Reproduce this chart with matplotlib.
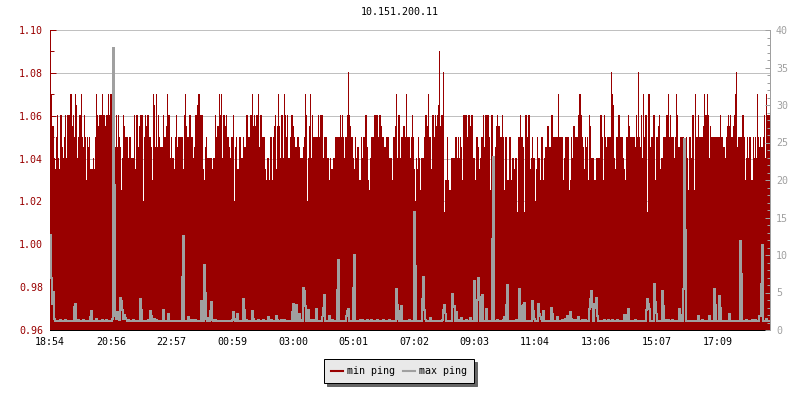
import numpy as np
import matplotlib
matplotlib.use('Agg')
import matplotlib.pyplot as plt
from matplotlib.lines import Line2D
from matplotlib.ticker import MultipleLocator, FormatStrFormatter

title = '10.151.200.11'
series_names = ['min ping', 'max ping']
step_min = 2  # one sample every 2 minutes, 24h window
tick_labels = ['18:54', '20:56', '22:57', '00:59', '03:00', '05:01',
               '07:02', '09:03', '11:04', '13:06', '15:07', '17:09']

# min ping in microseconds (left axis)
min_ping_us = [
    1070, 1070, 1055, 1055, 1040, 1035, 1050, 1060, 1040, 1035,
    1060, 1060, 1045, 1040, 1050, 1060, 1040, 1060, 1060, 1060,
    1070, 1070, 1055, 1060, 1050, 1070, 1065, 1040, 1050, 1060,
    1060, 1070, 1050, 1045, 1060, 1050, 1030, 1050, 1045, 1050,
    1035, 1035, 1035, 1040, 1035, 1050, 1070, 1060, 1055, 1060,
    1060, 1060, 1070, 1060, 1060, 1055, 1060, 1060, 1070, 1060,
    1070, 1070, 1055, 1055, 1040, 1045, 1060, 1045, 1060, 1050,
    1045, 1025, 1040, 1060, 1055, 1050, 1050, 1050, 1040, 1050,
    1050, 1040, 1040, 1040, 1060, 1035, 1060, 1060, 1045, 1055,
    1060, 1060, 1060, 1020, 1050, 1060, 1055, 1060, 1060, 1050,
    1050, 1045, 1030, 1070, 1065, 1045, 1070, 1045, 1060, 1050,
    1045, 1045, 1045, 1060, 1050, 1050, 1055, 1070, 1060, 1060,
    1040, 1050, 1040, 1040, 1035, 1050, 1060, 1045, 1050, 1050,
    1050, 1050, 1050, 1035, 1060, 1070, 1055, 1050, 1050, 1060,
    1060, 1050, 1050, 1040, 1045, 1060, 1060, 1065, 1070, 1070,
    1060, 1060, 1060, 1035, 1030, 1045, 1050, 1040, 1040, 1040,
    1040, 1040, 1035, 1040, 1040, 1060, 1050, 1055, 1055, 1070,
    1060, 1070, 1040, 1060, 1060, 1055, 1060, 1050, 1050, 1045,
    1040, 1050, 1050, 1060, 1020, 1045, 1050, 1035, 1035, 1050,
    1050, 1040, 1040, 1050, 1045, 1045, 1060, 1060, 1050, 1050,
    1060, 1060, 1070, 1055, 1060, 1055, 1060, 1060, 1070, 1045,
    1060, 1060, 1050, 1050, 1050, 1035, 1030, 1040, 1040, 1030,
    1050, 1050, 1030, 1050, 1055, 1060, 1035, 1055, 1070, 1055,
    1040, 1060, 1060, 1040, 1070, 1060, 1050, 1060, 1040, 1040,
    1050, 1060, 1060, 1055, 1050, 1045, 1045, 1050, 1050, 1045,
    1040, 1040, 1040, 1045, 1050, 1070, 1060, 1020, 1040, 1055,
    1070, 1040, 1060, 1050, 1050, 1050, 1050, 1050, 1060, 1050,
    1060, 1060, 1060, 1040, 1050, 1050, 1050, 1040, 1040, 1030,
    1040, 1035, 1035, 1040, 1040, 1050, 1050, 1050, 1050, 1050,
    1060, 1050, 1060, 1050, 1040, 1050, 1050, 1060, 1080, 1060,
    1055, 1050, 1050, 1040, 1035, 1050, 1040, 1045, 1045, 1030,
    1030, 1050, 1040, 1050, 1050, 1060, 1060, 1045, 1030, 1025,
    1040, 1050, 1050, 1050, 1060, 1060, 1060, 1060, 1050, 1060,
    1060, 1055, 1050, 1050, 1045, 1045, 1050, 1050, 1050, 1040,
    1040, 1040, 1030, 1050, 1050, 1055, 1070, 1040, 1060, 1060,
    1040, 1050, 1050, 1055, 1055, 1050, 1070, 1050, 1050, 1050,
    1040, 1050, 1060, 1050, 1035, 1020, 1040, 1035, 1050, 1040,
    1025, 1040, 1040, 1040, 1050, 1060, 1060, 1055, 1070, 1050,
    1050, 1035, 1060, 1060, 1050, 1060, 1055, 1060, 1065, 1090,
    1055, 1060, 1060, 1080, 1015, 1030, 1030, 1050, 1030, 1025,
    1025, 1040, 1040, 1040, 1040, 1050, 1050, 1040, 1050, 1040,
    1050, 1045, 1030, 1060, 1060, 1060, 1060, 1050, 1060, 1060,
    1055, 1060, 1060, 1040, 1040, 1030, 1050, 1050, 1045, 1035,
    1040, 1050, 1050, 1060, 1045, 1060, 1060, 1060, 1060, 1050,
    1025, 1060, 1060, 1035, 1035, 1045, 1055, 1060, 1055, 1055,
    1050, 1050, 1060, 1050, 1025, 1050, 1050, 1030, 1030, 1050,
    1050, 1030, 1040, 1040, 1035, 1040, 1040, 1015, 1050, 1050,
    1060, 1050, 1050, 1045, 1015, 1060, 1060, 1050, 1060, 1060,
    1035, 1040, 1050, 1040, 1040, 1020, 1035, 1050, 1040, 1040,
    1030, 1050, 1050, 1030, 1040, 1045, 1045, 1055, 1055, 1045,
    1045, 1060, 1060, 1050, 1050, 1050, 1050, 1050, 1070, 1050,
    1050, 1050, 1050, 1030, 1040, 1050, 1050, 1050, 1050, 1025,
    1030, 1050, 1040, 1055, 1055, 1050, 1050, 1050, 1060, 1070,
    1070, 1060, 1050, 1045, 1035, 1050, 1045, 1050, 1030, 1060,
    1055, 1040, 1040, 1040, 1030, 1030, 1040, 1040, 1040, 1040,
    1060, 1060, 1050, 1030, 1060, 1050, 1045, 1050, 1050, 1050,
    1050, 1080, 1070, 1065, 1040, 1035, 1050, 1050, 1060, 1060,
    1050, 1050, 1050, 1040, 1035, 1030, 1050, 1050, 1060, 1055,
    1050, 1050, 1050, 1050, 1050, 1045, 1060, 1050, 1080, 1050,
    1045, 1060, 1040, 1070, 1050, 1060, 1060, 1015, 1070, 1070,
    1045, 1050, 1050, 1060, 1060, 1030, 1050, 1050, 1055, 1060,
    1035, 1040, 1040, 1050, 1050, 1050, 1060, 1060, 1070, 1050,
    1060, 1050, 1050, 1050, 1040, 1050, 1070, 1060, 1045, 1045,
    1050, 1050, 1050, 1050, 1040, 1040, 1050, 1040, 1025, 1050,
    1050, 1040, 1060, 1060, 1025, 1070, 1050, 1050, 1060, 1050,
    1050, 1050, 1050, 1055, 1070, 1060, 1060, 1070, 1060, 1040,
    1055, 1050, 1050, 1050, 1050, 1050, 1050, 1050, 1050, 1050,
    1060, 1050, 1050, 1045, 1045, 1040, 1050, 1055, 1060, 1055,
    1060, 1050, 1050, 1055, 1060, 1070, 1080, 1045, 1050, 1050,
    1050, 1050, 1060, 1060, 1050, 1030, 1040, 1050, 1040, 1050,
    1050, 1030, 1030, 1050, 1040, 1050, 1040, 1070, 1050, 1045,
    1050, 1045, 1045, 1050, 1060, 1040, 1070, 1060, 1060, 1060,
]

# max ping in ms (right axis)
max_ping = [
    12.7, 6.9, 3.5, 5.1, 1.5, 1.2, 1.2, 1.2, 1.2, 1.2, 1.4, 1.2, 1.2, 1.2, 1.2, 1.3, 1.2, 1.2, 1.2, 1.2,
    1.2, 1.2, 1.2, 1.2, 3.1, 3.5, 1.2, 1.2, 1.4, 1.2, 1.2, 1.2, 1.2, 1.3, 1.2, 1.2, 1.2, 1.2, 1.2, 1.2,
    1.7, 2.6, 1.2, 1.2, 1.2, 1.2, 1.5, 1.2, 1.2, 1.2, 1.2, 1.2, 1.3, 1.2, 1.2, 1.2, 1.4, 1.2, 1.2, 1.2,
    1.2, 1.2, 1.5, 37.6, 19.3, 1.9, 1.5, 2.4, 1.4, 1.3, 4.3, 3.9, 2.7, 1.5, 2.0, 1.6, 1.4, 1.2, 1.3, 1.2,
    1.2, 1.2, 1.2, 1.3, 1.2, 1.2, 1.2, 1.2, 1.2, 1.2, 4.1, 2.7, 1.2, 1.2, 1.2, 1.2, 1.2, 1.2, 1.3, 1.2,
    2.6, 1.9, 1.2, 1.2, 1.5, 1.2, 1.4, 1.2, 1.2, 1.2, 1.2, 1.2, 1.2, 2.7, 1.2, 1.2, 1.2, 1.2, 2.2, 1.2,
    1.2, 1.2, 1.2, 1.2, 1.2, 1.2, 1.2, 1.2, 1.2, 1.2, 1.2, 1.2, 7.1, 12.5, 1.2, 1.2, 1.2, 1.2, 1.7, 1.4,
    1.2, 1.4, 1.3, 1.2, 1.2, 1.3, 1.2, 1.2, 1.2, 1.2, 1.2, 3.9, 1.2, 1.2, 8.7, 5.0, 1.4, 1.2, 1.6, 1.2,
    2.5, 3.8, 1.3, 1.2, 1.2, 1.4, 1.2, 1.2, 1.2, 1.2, 1.2, 1.2, 1.2, 1.2, 1.2, 1.2, 1.2, 1.2, 1.2, 1.2,
    1.2, 1.2, 1.3, 2.4, 1.5, 1.2, 1.2, 2.1, 1.2, 1.2, 1.2, 1.2, 1.2, 4.1, 2.7, 1.2, 1.4, 1.2, 1.2, 1.2,
    1.2, 1.2, 2.6, 1.5, 1.2, 1.2, 1.2, 1.2, 1.3, 1.2, 1.2, 1.2, 1.2, 1.3, 1.2, 1.2, 1.2, 1.2, 1.7, 1.4,
    1.2, 1.3, 1.2, 1.2, 1.2, 1.2, 1.9, 1.4, 1.2, 1.2, 1.2, 1.4, 1.2, 1.2, 1.3, 1.2, 1.2, 1.2, 1.2, 1.2,
    1.2, 1.2, 2.4, 3.5, 1.2, 1.2, 3.3, 1.2, 1.2, 2.2, 1.2, 1.4, 1.2, 5.6, 5.2, 3.2, 1.2, 1.2, 2.7, 1.2,
    1.2, 1.4, 1.2, 1.2, 1.3, 1.2, 2.8, 1.2, 1.2, 1.2, 1.2, 1.2, 1.8, 3.0, 4.7, 1.2, 1.2, 1.2, 1.2, 1.9,
    1.2, 1.2, 1.3, 1.2, 1.2, 1.2, 1.2, 5.3, 9.3, 1.2, 1.2, 1.2, 1.2, 1.2, 1.2, 1.2, 1.9, 2.6, 2.8, 1.2,
    1.2, 1.2, 1.2, 5.6, 10.0, 1.2, 1.2, 1.2, 1.2, 1.2, 1.4, 1.2, 1.3, 1.2, 1.2, 1.2, 1.2, 1.3, 1.2, 1.2,
    1.2, 1.3, 1.2, 1.2, 1.2, 1.2, 1.2, 1.3, 1.2, 1.2, 1.2, 1.2, 1.2, 1.3, 1.2, 1.2, 1.2, 1.2, 1.2, 1.3,
    1.2, 1.2, 1.2, 1.2, 1.2, 1.2, 5.5, 3.3, 1.4, 1.2, 2.5, 3.2, 1.2, 1.2, 1.2, 1.2, 1.2, 1.2, 1.2, 1.3,
    1.2, 1.2, 1.2, 1.2, 15.8, 8.5, 1.2, 1.2, 1.2, 1.2, 1.2, 1.2, 4.1, 7.1, 2.7, 1.4, 1.2, 1.2, 1.2, 1.2,
    1.6, 1.2, 1.2, 1.2, 1.2, 1.2, 1.2, 1.2, 1.2, 1.2, 1.2, 1.2, 1.3, 2.7, 3.3, 2.2, 1.2, 1.2, 1.2, 1.2,
    1.2, 1.2, 4.8, 3.1, 3.2, 1.2, 2.4, 1.2, 1.3, 1.2, 1.2, 1.6, 1.2, 1.2, 1.2, 1.2, 1.3, 1.2, 1.2, 1.2,
    1.6, 1.2, 1.2, 1.2, 6.6, 3.9, 1.2, 4.0, 7.0, 4.2, 1.2, 4.4, 4.7, 1.2, 1.2, 1.2, 2.8, 1.2, 1.2, 1.2,
    1.2, 1.2, 12.1, 23.1, 1.2, 1.2, 1.2, 1.3, 1.2, 1.2, 1.2, 1.2, 1.2, 1.3, 1.8, 1.2, 3.4, 6.0, 1.2, 1.2,
    1.2, 1.2, 1.2, 1.2, 1.2, 1.2, 1.4, 1.2, 1.2, 5.5, 3.2, 1.2, 1.2, 3.4, 3.6, 1.2, 1.2, 1.2, 1.2, 1.2,
    1.2, 1.2, 3.9, 2.6, 1.5, 1.2, 1.2, 1.2, 3.5, 2.2, 1.8, 1.5, 1.2, 2.6, 1.2, 1.2, 1.2, 1.2, 1.2, 1.2,
    1.2, 3.0, 2.1, 1.2, 1.2, 1.2, 1.2, 1.7, 1.2, 1.2, 1.2, 1.2, 1.3, 1.2, 1.4, 1.5, 1.2, 1.9, 1.4, 1.2,
    2.4, 1.5, 1.2, 1.3, 1.4, 1.2, 1.2, 1.4, 1.7, 1.2, 1.2, 1.2, 1.3, 1.2, 1.2, 1.3, 1.2, 1.2, 1.2, 2.8,
    4.2, 5.2, 3.1, 1.2, 3.5, 2.9, 4.3, 1.9, 1.2, 1.2, 1.2, 1.2, 1.2, 1.2, 1.3, 1.2, 1.2, 1.2, 1.3, 1.2,
    1.2, 1.2, 1.3, 1.2, 1.2, 1.2, 1.2, 1.3, 1.2, 1.2, 1.2, 1.2, 1.2, 1.2, 2.0, 1.2, 1.2, 2.0, 2.8, 1.2,
    1.2, 1.2, 1.2, 1.2, 1.2, 1.3, 1.2, 1.2, 1.2, 1.2, 1.2, 1.2, 1.2, 1.2, 1.2, 1.2, 2.7, 4.1, 3.5, 2.8,
    1.2, 1.2, 1.2, 1.2, 6.1, 3.8, 2.2, 1.2, 1.2, 1.2, 1.2, 1.2, 5.2, 3.2, 1.2, 1.3, 1.2, 1.2, 1.3, 1.2,
    1.2, 1.2, 1.3, 1.2, 1.2, 1.2, 1.2, 1.2, 1.2, 2.8, 2.0, 1.2, 1.2, 5.5, 25.5, 13.3, 1.2, 1.2, 1.2, 1.2,
    1.2, 1.2, 1.2, 1.2, 1.2, 1.2, 1.2, 1.2, 1.9, 1.2, 1.2, 1.2, 1.4, 1.2, 1.2, 1.2, 1.2, 1.2, 1.2, 1.9,
    1.2, 1.2, 1.2, 1.2, 5.5, 3.3, 1.2, 1.2, 1.2, 4.6, 3.0, 1.2, 1.2, 1.2, 1.2, 1.2, 1.2, 1.2, 1.2, 2.1,
    1.2, 1.2, 1.2, 1.2, 1.2, 1.2, 1.2, 1.2, 1.2, 1.2, 11.9, 7.5, 1.2, 1.2, 1.2, 1.2, 1.3, 1.2, 1.2, 1.2,
    1.2, 1.2, 1.3, 1.2, 1.2, 1.3, 1.2, 1.2, 1.2, 1.9, 1.9, 6.2, 11.3, 1.2, 1.2, 1.2, 1.5, 1.2, 1.2, 1.2,
]

RED = '#990000'
GREY = '#a0a0a0'
PX = 0.72  # one pixel in points at 100 dpi

plt.rcParams['font.family'] = 'DejaVu Sans Mono'
plt.rcParams['font.size'] = 7.2

min_ping = np.array(min_ping_us) / 1000.0
edges = np.arange(len(min_ping) + 1) * step_min


def minutes_from_start(lbl):
    h, m = map(int, lbl.split(':'))
    h0, m0 = map(int, tick_labels[0].split(':'))
    return ((h * 60 + m) - (h0 * 60 + m0)) % 1440


fig = plt.figure(figsize=(8, 4), dpi=100)
ax = fig.add_axes([50 / 800, 70 / 400, 720 / 800, 300 / 400])

ax.stairs(min_ping, edges, baseline=0.96, fill=True, color=RED,
          antialiased=False, linewidth=0)
ax.set_xlim(0, edges[-1])
ax.set_ylim(0.96, 1.10)
ax.yaxis.set_major_locator(MultipleLocator(0.02))
ax.yaxis.set_minor_locator(MultipleLocator(0.01))
ax.yaxis.set_major_formatter(FormatStrFormatter('%.2f'))
ax.grid(axis='y', which='major', color='#c0c0c0', linewidth=PX)
ax.set_axisbelow(True)
ax.tick_params(axis='y', which='major', direction='in', length=6 * PX,
               width=PX, color=RED, labelcolor=RED, pad=5)
ax.tick_params(axis='y', which='minor', direction='in', length=4 * PX,
               width=PX, color=RED)
ax.set_xticks([minutes_from_start(t) for t in tick_labels], tick_labels)
ax.tick_params(axis='x', direction='in', length=5 * PX, width=PX,
               color='black', labelcolor='black', pad=5)
ax.spines['top'].set_visible(False)
ax.spines['right'].set_visible(False)
ax.spines['left'].set_color(RED)
ax.spines['left'].set_linewidth(PX)
ax.spines['bottom'].set_color('black')
ax.spines['bottom'].set_linewidth(PX)

ax2 = ax.twinx()
ax2.stairs(max_ping, edges, baseline=None, color=GREY, linewidth=PX,
           antialiased=False)
ax2.set_ylim(0, 40)
ax2.yaxis.set_major_locator(MultipleLocator(5))
ax2.yaxis.set_minor_locator(MultipleLocator(1))
ax2.tick_params(axis='y', which='major', direction='in', length=5 * PX,
                width=PX, color=GREY, labelcolor=GREY, pad=4.3)
ax2.tick_params(axis='y', which='minor', direction='in', length=3 * PX,
                width=PX, color=GREY)
for s in ['left', 'top', 'bottom']:
    ax2.spines[s].set_visible(False)
ax2.spines['right'].set_color(GREY)
ax2.spines['right'].set_linewidth(PX)

fig.text(0.5, 1 - 12 / 400, title, ha='center', va='center', color='black')

handles = [Line2D([], [], color=RED, linewidth=1.5),
           Line2D([], [], color=GREY, linewidth=1.5)]
leg = fig.legend(handles, series_names, loc='center',
                 bbox_to_anchor=(399 / 800, 1 - 371 / 400), ncol=2,
                 frameon=True, fancybox=False, edgecolor='black',
                 facecolor='#e9e9e9', framealpha=1,
                 shadow={'ox': 2.2, 'oy': -2.2, 'color': '#666666', 'alpha': 1},
                 handlelength=1.2, handletextpad=0.4, columnspacing=0.8,
                 borderpad=0.7, borderaxespad=0)
leg.get_frame().set_linewidth(PX)

fig.savefig('out.png', dpi=100)
